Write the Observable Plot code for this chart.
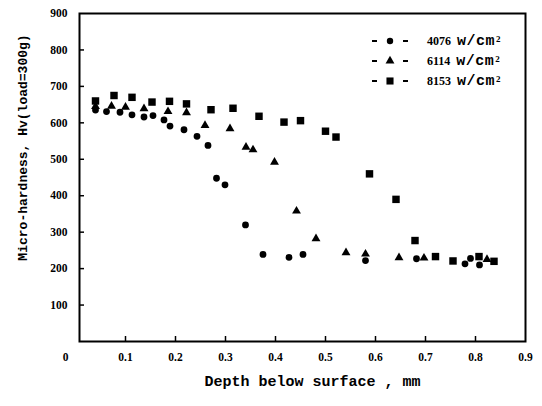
<!DOCTYPE html>
<html><head><meta charset="utf-8">
<script src="https://cdn.jsdelivr.net/npm/d3@7"></script>
<script src="https://cdn.jsdelivr.net/npm/@observablehq/plot@0.6"></script>
<style>
body{margin:0;background:#fff;}
#chart{position:relative;width:542px;height:406px;}
#legend{position:absolute;left:369px;top:31px;}
.row{height:20px;line-height:20px;display:flex;align-items:center;color:#000;white-space:nowrap;}
.row svg{margin-right:17px;flex:none;}
.num{font:bold 12px "Liberation Serif";margin-right:6px;}
.unit{font:bold 15px "Liberation Mono";letter-spacing:0.5px;}
.unit sup{font:bold 9px "Liberation Serif";letter-spacing:0;position:relative;top:-3px;vertical-align:baseline;margin-left:1px;}
</style></head><body><div id="chart"></div>
<script>
// ---- data ----
const seriesNames = ["4076", "6114", "8153"];
const seriesSymbols = ["circle", "triangle", "square"];

const x4076 = [0.04,0.062,0.089,0.113,0.137,0.155,0.177,0.189,0.217,0.243,0.265,0.282,0.299,0.34,0.375,0.427,0.455,0.58,0.682,0.779,0.79,0.808];
const y4076 = [635,631,629,622,616,620,608,591,581,563,538,448,430,320,239,231,239,222,227,213,228,210];

const x6114 = [0.04,0.072,0.10,0.137,0.185,0.222,0.259,0.309,0.341,0.355,0.398,0.442,0.481,0.541,0.58,0.647,0.697,0.823];
const y6114 = [645,646,643,639,631,628,593,584,533,526,492,358,282,244,240,230,229,225];

const x8153 = [0.04,0.077,0.113,0.153,0.188,0.222,0.271,0.315,0.367,0.417,0.45,0.50,0.521,0.588,0.641,0.679,0.72,0.755,0.807,0.837];
const y8153 = [660,675,670,657,659,652,636,640,618,602,606,577,561,460,390,277,233,221,233,220];

const xTicks = [0.1,0.2,0.3,0.4,0.5,0.6,0.7,0.8,0.9];
const yTicks = [100,200,300,400,500,600,700,800,900];
const xLabel = "Depth below surface , mm";
const yLabel = "Micro-hardness, Hv(load=300g)";
const unitText = "w/cm";

// ---- build ----
const allX = [x4076, x6114, x8153], allY = [y4076, y6114, y8153];
const points = [];
seriesNames.forEach((s, i) => allX[i].forEach((x, j) => points.push({series: s, x, y: allY[i][j]})));

const serif = "Liberation Serif";
const mono = "Liberation Mono";

const chart = Plot.plot({
  width: 542, height: 406,
  marginLeft: 79, marginRight: 17, marginTop: 13, marginBottom: 65,
  style: {background: "#fff", color: "#000"},
  x: {domain: [0.008, 0.9]},
  y: {domain: [0, 900]},
  symbol: {domain: seriesNames, range: seriesSymbols},
  marks: [
    Plot.axisY({ticks: yTicks.slice(0, -1), tickSize: -5, tickFormat: () => "", strokeWidth: 1.5, label: null}),
    Plot.axisY({ticks: yTicks, tickSize: 0, tickPadding: 12, fontFamily: serif, fontWeight: "bold", fontSize: 11.5, label: null}),
    Plot.axisX({ticks: xTicks.slice(0, -1), tickSize: -5, tickFormat: () => "", strokeWidth: 1.5, label: null}),
    Plot.axisX({ticks: xTicks, tickSize: 0, tickPadding: 11, fontFamily: serif, fontWeight: "bold", fontSize: 11.5, label: null, tickFormat: d3.format(".1f")}),
    Plot.axisX({ticks: [0], tickSize: 0, tickPadding: 11, dx: -10, fontFamily: serif, fontWeight: "bold", fontSize: 11.5, label: null, tickFormat: () => "0"}),
    Plot.frame({stroke: "#000", strokeWidth: 2}),
    Plot.dot(points.filter(d => d.series === "4076"), {x: "x", y: "y", symbol: "series", r: 3.4, fill: "#000", stroke: "none"}),
    Plot.dot(points.filter(d => d.series === "6114"), {x: "x", y: "y", symbol: "series", r: 3.3, fill: "#000", stroke: "none"}),
    Plot.dot(points.filter(d => d.series === "8153"), {x: "x", y: "y", symbol: "series", r: 4.2, fill: "#000", stroke: "none"}),
    Plot.text([xLabel], {frameAnchor: "bottom", textAnchor: "middle", dx: 10, dy: 44, fontFamily: mono, fontWeight: "bold", fontSize: 15, fill: "#000"}),
    Plot.text([yLabel], {frameAnchor: "left", textAnchor: "middle", rotate: -90, dx: -57, dy: -30, fontFamily: mono, fontWeight: "bold", fontSize: 13, fill: "#000"})
  ]
});

const host = document.getElementById("chart");
host.appendChild(chart);

// legend
const legend = document.createElement("div");
legend.id = "legend";
seriesNames.forEach((s, i) => {
  const row = document.createElement("div");
  row.className = "row";
  const svg = d3.create("svg").attr("width", 41).attr("height", 20);
  svg.append("line").attr("x1", 3).attr("x2", 8).attr("y1", 10).attr("y2", 10).attr("stroke", "#000").attr("stroke-width", 2);
  svg.append("line").attr("x1", 34).attr("x2", 39).attr("y1", 10).attr("y2", 10).attr("stroke", "#000").attr("stroke-width", 2);
  const sym = {circle: d3.symbolCircle, triangle: d3.symbolTriangle, square: d3.symbolSquare}[seriesSymbols[i]];
  const rr = [3.2, 3.3, 4][i];
  svg.append("path").attr("d", d3.symbol(sym, Math.PI * rr * rr)()).attr("transform", "translate(21,10)").attr("fill", "#000");
  row.appendChild(svg.node());
  const n = document.createElement("span");
  n.className = "num";
  n.textContent = s;
  row.appendChild(n);
  const u = document.createElement("span");
  u.className = "unit";
  u.innerHTML = unitText + "<sup>2</sup>";
  row.appendChild(u);
  legend.appendChild(row);
});
host.appendChild(legend);
</script>
</body></html>
